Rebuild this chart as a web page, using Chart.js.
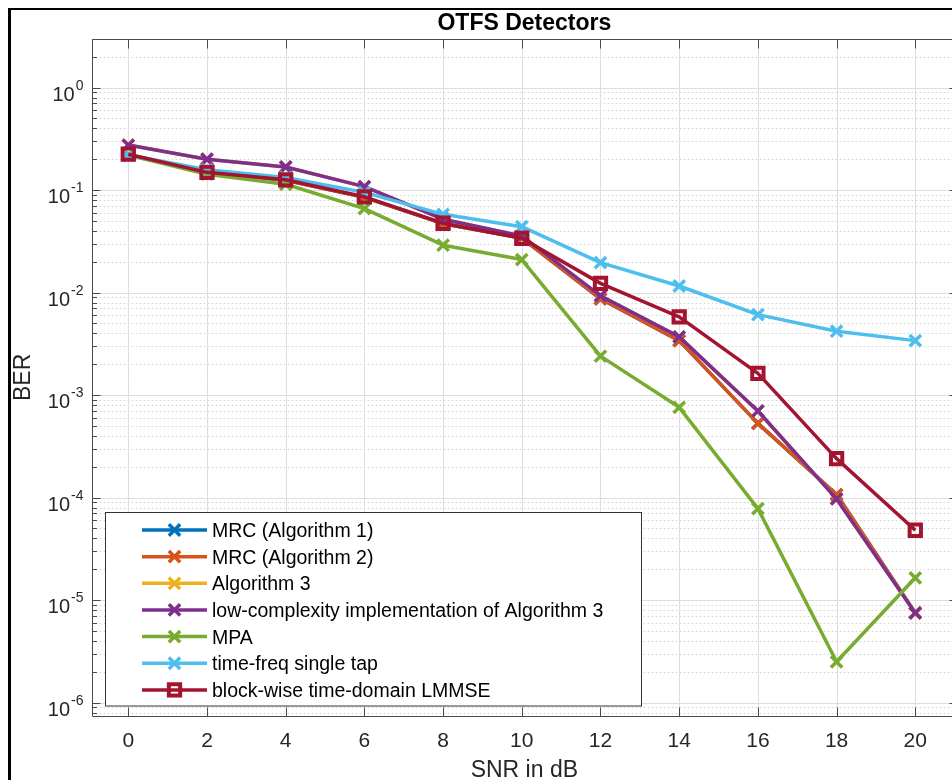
<!DOCTYPE html>
<html>
<head>
<meta charset="utf-8">
<title>OTFS Detectors</title>
<script src="https://cdn.jsdelivr.net/npm/chart.js@4/dist/chart.umd.min.js"></script>
<style>
  html, body { margin: 0; padding: 0; background: #fff; overflow: hidden; }
  #wrap { position: relative; width: 952px; height: 780px; overflow: hidden; }
  #frame { position: absolute; left: 8px; top: 8px; width: 980px; height: 800px; border-left: 3px solid #000; border-top: 2px solid #000; }
  #berChart { position: absolute; left: 0; top: 0; }
</style>
</head>
<body>
<div id="wrap">
  <div id="frame"></div>
  <canvas id="berChart" width="970" height="780"></canvas>
</div>
<script>
// SNR points and BER per detector
const snrDb = [0, 2, 4, 6, 8, 10, 12, 14, 16, 18, 20];
const mrcAlg1Ber = [0.22, 0.15, 0.125, 0.085, 0.047, 0.034, 0.0087, 0.0034, 0.00053, 1.07e-4, 7.5e-6];
const mrcAlg2Ber = [0.22, 0.15, 0.125, 0.085, 0.047, 0.034, 0.0087, 0.0034, 0.00053, 1.07e-4, 7.5e-6];
const alg3Ber = [0.275, 0.2, 0.168, 0.108, 0.052, 0.0357, 0.0093, 0.0037, 0.0007, 9.7e-5, 7.5e-6];
const lowComplexityBer = [0.275, 0.2, 0.168, 0.108, 0.052, 0.0357, 0.0093, 0.0037, 0.0007, 9.7e-5, 7.5e-6];
const mpaBer = [0.22, 0.143, 0.114, 0.066, 0.029, 0.021, 0.0024, 0.00076, 7.8e-5, 2.5e-6, 1.65e-5];
const singleTapBer = [0.22, 0.158, 0.133, 0.095, 0.058, 0.044, 0.0196, 0.0116, 0.0061, 0.0042, 0.0034];
const lmmseBer = [0.224, 0.149, 0.126, 0.086, 0.0475, 0.0339, 0.0123, 0.0058, 0.00163, 0.00024, 4.8e-5];

const seriesNames = [
    'MRC (Algorithm 1)',
    'MRC (Algorithm 2)',
    'Algorithm 3',
    'low-complexity implementation of Algorithm 3',
    'MPA',
    'time-freq single tap',
    'block-wise time-domain LMMSE'
];
const seriesValues = [mrcAlg1Ber, mrcAlg2Ber, alg3Ber, lowComplexityBer, mpaBer, singleTapBer, lmmseBer];
const seriesColors = ['#0072BD', '#D95319', '#EDB120', '#7E2F8E', '#77AC30', '#4DBEEE', '#A2142F'];
const seriesMarkers = ['crossRot', 'crossRot', 'crossRot', 'crossRot', 'crossRot', 'crossRot', 'rect'];

const xTickValues = [0, 2, 4, 6, 8, 10, 12, 14, 16, 18, 20];
const yDecadeExponents = [0, -1, -2, -3, -4, -5, -6];

const FONT = "'Liberation Sans', Arial, Helvetica, sans-serif";
const AXIS_COLOR = '#4a4a4a';
const LINE_W = 3.5;

function crisp(v) { return Math.round(v) + 0.5; }

function drawMarker(ctx, style, x, y, color) {
    ctx.save();
    ctx.strokeStyle = color;
    ctx.setLineDash([]);
    if (style === 'rect') {
        ctx.lineWidth = 4;
        ctx.strokeRect(x - 5.65, y - 5.65, 11.3, 11.3);
    } else {
        const h = 5.66;
        ctx.lineWidth = LINE_W;
        ctx.beginPath();
        ctx.moveTo(x - h, y - h); ctx.lineTo(x + h, y + h);
        ctx.moveTo(x - h, y + h); ctx.lineTo(x + h, y - h);
        ctx.stroke();
    }
    ctx.restore();
}

const matlabAxes = {
    id: 'matlabAxes',
    beforeDatasetsDraw(chart) {
        const { ctx, chartArea: a, scales: { x, y } } = chart;
        ctx.save();
        ctx.fillStyle = '#fff';
        ctx.fillRect(a.left, a.top, a.right - a.left, a.bottom - a.top);

        // minor grid on the log axis
        ctx.strokeStyle = '#d2d2d2';
        ctx.lineWidth = 1;
        ctx.setLineDash([1.5, 2.5]);
        for (let e = -7; e <= 0; e++) {
            for (let m = 2; m <= 9; m++) {
                const v = m * Math.pow(10, e);
                if (v <= y.min || v >= y.max) continue;
                const py = crisp(y.getPixelForValue(v));
                ctx.beginPath(); ctx.moveTo(a.left, py); ctx.lineTo(a.right, py); ctx.stroke();
            }
        }

        // major grid
        ctx.setLineDash([]);
        ctx.strokeStyle = '#dedede';
        xTickValues.forEach(v => {
            const px = crisp(x.getPixelForValue(v));
            ctx.beginPath(); ctx.moveTo(px, a.top); ctx.lineTo(px, a.bottom); ctx.stroke();
        });
        yDecadeExponents.forEach(e => {
            const py = crisp(y.getPixelForValue(Math.pow(10, e)));
            ctx.beginPath(); ctx.moveTo(a.left, py); ctx.lineTo(a.right, py); ctx.stroke();
        });
        ctx.restore();
    },
    afterDatasetsDraw(chart) {
        const { ctx, chartArea: a, scales: { x, y } } = chart;
        ctx.save();
        const L = crisp(a.left), R = crisp(a.right), T = crisp(a.top), B = crisp(a.bottom);

        // axes box (left, top, bottom) and ticks on all four sides
        ctx.strokeStyle = AXIS_COLOR;
        ctx.lineWidth = 1;
        ctx.beginPath();
        ctx.moveTo(R, T); ctx.lineTo(L, T); ctx.lineTo(L, B); ctx.lineTo(R, B);
        xTickValues.forEach(v => {
            const px = crisp(x.getPixelForValue(v));
            ctx.moveTo(px, B); ctx.lineTo(px, B - 9);
            ctx.moveTo(px, T); ctx.lineTo(px, T + 9);
        });
        for (let e = -7; e <= 0; e++) {
            for (let m = 1; m <= 9; m++) {
                const v = m * Math.pow(10, e);
                if (v < y.min || v > y.max) continue;
                const py = crisp(y.getPixelForValue(v));
                const len = m === 1 ? 8 : 4.5;
                ctx.moveTo(L, py); ctx.lineTo(L + len, py);
                ctx.moveTo(R, py); ctx.lineTo(R - len, py);
            }
        }
        ctx.stroke();

        // tick labels
        ctx.fillStyle = '#262626';
        ctx.textBaseline = 'alphabetic';
        ctx.font = `21px ${FONT}`;
        ctx.textAlign = 'center';
        xTickValues.forEach(v => ctx.fillText(String(v), x.getPixelForValue(v), 747));

        ctx.textAlign = 'left';
        yDecadeExponents.forEach(e => {
            const py = y.getPixelForValue(Math.pow(10, e));
            const sup = e === 0 ? '0' : '-' + Math.abs(e);
            ctx.font = `20px ${FONT}`;
            const wBase = ctx.measureText('10').width;
            ctx.font = `14px ${FONT}`;
            const wSup = ctx.measureText(sup).width;
            const right = 83.5;
            ctx.font = `20px ${FONT}`;
            ctx.fillText('10', right - wSup - wBase - 1, py + 13);
            ctx.font = `14px ${FONT}`;
            ctx.fillText(sup, right - wSup, py + 2);
        });

        // axis titles and title
        ctx.textAlign = 'center';
        ctx.font = `23px ${FONT}`;
        ctx.fillText('SNR in dB', (a.left + a.right) / 2, 777);
        ctx.save();
        ctx.translate(30, (a.top + a.bottom) / 2);
        ctx.rotate(-Math.PI / 2);
        ctx.fillText('BER', 0, 0);
        ctx.restore();
        ctx.fillStyle = '#000';
        ctx.font = `bold 23px ${FONT}`;
        ctx.fillText('OTFS Detectors', (a.left + a.right) / 2, 29.5);

        // legend box
        const lx = 105.5, ly = 512.5, lw = 536, lh = 193.5;
        ctx.fillStyle = '#fff';
        ctx.fillRect(lx, ly, lw, lh);
        ctx.strokeStyle = '#333';
        ctx.lineWidth = 1;
        ctx.strokeRect(lx, ly, lw, lh);
        seriesNames.forEach((name, i) => {
            const ry = 530 + 26.65 * i;
            ctx.strokeStyle = seriesColors[i];
            ctx.lineWidth = LINE_W;
            ctx.beginPath(); ctx.moveTo(142, ry); ctx.lineTo(207, ry); ctx.stroke();
            drawMarker(ctx, seriesMarkers[i], 174.5, ry, seriesColors[i]);
            ctx.fillStyle = '#000';
            ctx.font = `19.5px ${FONT}`;
            ctx.textAlign = 'left';
            ctx.fillText(name, 212, ry + 7);
        });
        ctx.restore();
    }
};

const datasets = seriesNames.map((name, i) => ({
    label: name,
    data: snrDb.map((snr, k) => ({ x: snr, y: seriesValues[i][k] })),
    borderColor: seriesColors[i],
    backgroundColor: 'rgba(0,0,0,0)',
    borderWidth: LINE_W,
    borderJoinStyle: 'round',
    tension: 0,
    pointStyle: seriesMarkers[i],
    pointRadius: 8,
    pointBorderWidth: seriesMarkers[i] === 'rect' ? 4 : LINE_W,
    pointBorderColor: seriesColors[i],
    pointBackgroundColor: 'rgba(0,0,0,0)',
    order: seriesNames.length - i
}));

new Chart(document.getElementById('berChart'), {
    type: 'line',
    data: { datasets },
    options: {
        responsive: false,
        animation: false,
        events: [],
        layout: { padding: { left: 91.7, top: 38.7, right: 13, bottom: 64 } },
        scales: {
            x: { type: 'linear', min: -0.93, max: 21.06, display: false },
            y: { type: 'logarithmic', min: 7.4e-7, max: 3.0, display: false }
        },
        plugins: { legend: { display: false }, tooltip: { enabled: false } }
    },
    plugins: [matlabAxes]
});
</script>
</body>
</html>
